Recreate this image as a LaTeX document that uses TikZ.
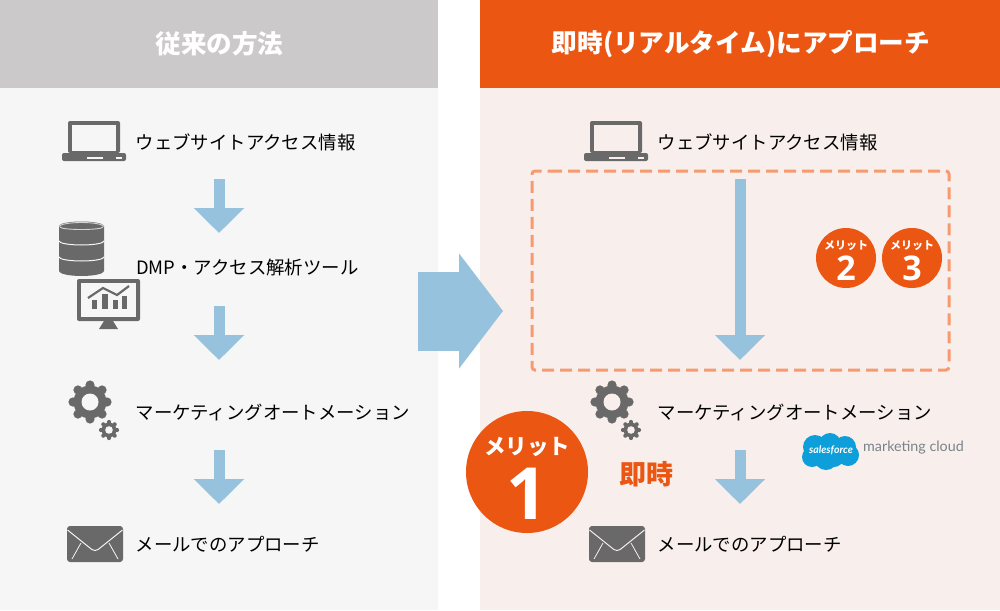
\documentclass[tikz,border=0pt]{standalone}
\usepackage{fontspec}
\setmainfont{Noto Sans CJK JP}
\newfontfamily\logofont{Lato}
\newfontfamily\numfont{Open Sans}
\usetikzlibrary{arrows.meta, calc}

\definecolor{iconGrey}{HTML}{696969}
\definecolor{arrowBlue}{HTML}{96C2DE}
\definecolor{accentOrange}{HTML}{EB5613}
\definecolor{dashOrange}{HTML}{F79A70}
\definecolor{headGrey}{HTML}{CBC9C9}
\definecolor{panelGrey}{HTML}{F6F6F6}
\definecolor{panelPink}{HTML}{F8EFEC}
\definecolor{cloudBlue}{HTML}{0E9FDB}
\definecolor{logoGrey}{HTML}{7B8288}

\tikzstyle{header} = [text=white, font=\fontsize{25.6}{30}\selectfont\bfseries]
\tikzstyle{label} = [anchor=west, inner sep=0pt, text=black, font=\fontsize{18.4}{22}\selectfont]
\tikzstyle{arrow} = [draw=arrowBlue, line width=11pt, -{Triangle[length=25pt,width=49pt]}]
\tikzstyle{bigarrow} = [draw=arrowBlue, line width=79pt, -{Triangle[length=44pt,width=113pt]}]
\tikzstyle{dashbox} = [draw=dashOrange, line width=3pt, rounded corners=3pt, dash pattern=on 12pt off 6pt]
\tikzstyle{meritbig} = [circle, fill=accentOrange, minimum size=122pt, inner sep=0pt]
\tikzstyle{meritsmall} = [circle, fill=accentOrange, minimum size=60pt, inner sep=0pt]
\tikzstyle{merittext} = [text=white, inner sep=0pt, font=\fontsize{11}{13}\selectfont\bfseries]
\tikzstyle{meritnum} = [text=white, inner sep=0pt, font=\numfont\fontsize{34}{36}\selectfont\bfseries]

\tikzset{
  laptopicon/.pic={
    \fill[iconGrey, rounded corners=2pt] (-26,-20) rectangle (26,12);
    \fill[#1] (-22,-16) rectangle (22,10);
    \fill[iconGrey, rounded corners=2pt] (-32,12) rectangle (32,20);
    \fill[#1] (-7,16) rectangle (9,18);
    \fill[#1] (22,16) rectangle (28,18);
  },
  gearicon/.pic={
    \fill[iconGrey] (0,0) circle (16.5);
    \foreach \ang in {0,45,...,315}
      \fill[iconGrey] (\ang:17) circle (4.6);
    \fill[#1] (0,0) circle (8.5);
    \fill[iconGrey] (19,28) circle (7.5);
    \foreach \ang in {0,45,...,315}
      \fill[iconGrey] ($(19,28)+(\ang:8)$) circle (2.1);
    \fill[#1] (19,28) circle (3.8);
  },
  mailicon/.pic={
    \fill[iconGrey, rounded corners=3pt] (-28,-18) rectangle (28,18);
    \draw[#1, line width=1pt, rounded corners=4pt] (-27.5,-14) -- (0,8) -- (27.5,-14);
    \draw[#1, line width=0.8pt] (-23,15) -- (-14,-1);
    \draw[#1, line width=0.8pt] (23,15) -- (14,-1);
  }
}

\begin{document}
\begin{tikzpicture}[x=1pt, y=-1pt]
    \useasboundingbox (0,0) rectangle (1000,610);

    % Panels
    \fill[headGrey] (0,0) rectangle (438,88);
    \fill[panelGrey] (0,88) rectangle (438,610);
    \fill[accentOrange] (480,0) rectangle (1000,88);
    \fill[panelPink] (480,88) rectangle (1000,610);

    % Headers
    \node (headleft) [header] at (219.5,44) {従来の方法};
    \node (headright) [header] at (741,44) {即時(リアルタイム)にアプローチ};

    % Left column
    \node (webleft) [label] at (135.5,142) {ウェブサイトアクセス情報};
    \node (dmpleft) [label] at (136,268) {DMP・アクセス解析ツール};
    \node (maleft) [label] at (135.5,412) {マーケティングオートメーション};
    \node (mailleft) [label] at (135.5,544) {メールでのアプローチ};

    % Right column
    \node (webright) [label] at (657.5,142) {ウェブサイトアクセス情報};
    \node (maright) [label] at (657.5,412) {マーケティングオートメーション};
    \node (mailright) [label] at (657.5,544) {メールでのアプローチ};

    % Icons
    \pic at (94,141) {laptopicon=panelGrey};
    \pic at (616,141) {laptopicon=panelPink};
    \pic at (90,402) {gearicon=panelGrey};
    \pic at (612,402) {gearicon=panelPink};
    \pic at (95,544) {mailicon=panelGrey};
    \pic at (617,544) {mailicon=panelPink};

    % Database
    \fill[iconGrey] (59,226) arc (180:360:22.5 and 4.5) -- (104,271) arc (0:180:22.5 and 5) -- cycle;
    \draw[panelGrey!75!iconGrey, line width=0.9pt] (59.5,226.5) arc (180:360:22 and 4);
    \draw[panelGrey!75!iconGrey, line width=0.9pt] (60,227) arc (180:0:21.5 and 2.5);
    \draw[panelGrey, line width=1pt] (59,241) arc (180:0:22.5 and 4);
    \draw[panelGrey, line width=1pt] (59,257) arc (180:0:22.5 and 4);

    % Monitor
    \fill[iconGrey, rounded corners=2pt] (77,279) rectangle (140,321);
    \fill[panelGrey] (81,283) rectangle (136,317);
    \fill[iconGrey] (104,321) -- (113,321) -- (118,329) -- (99,329) -- cycle;
    \fill[iconGrey] (92,300) rectangle (97,309);
    \fill[iconGrey] (102,294) rectangle (108,309);
    \fill[iconGrey] (113,300) rectangle (118,309);
    \fill[iconGrey] (122,296) rectangle (127,309);
    \draw[iconGrey, line width=2.2pt] (88,298) -- (103,288) -- (117,295) -- (129,286);

    % Arrows
    \coordinate (a1s) at (219,179);
    \coordinate (a1e) at (219,233);
    \coordinate (a2s) at (219,306);
    \coordinate (a2e) at (219,360);
    \coordinate (a3s) at (219,450);
    \coordinate (a3e) at (219,504);
    \coordinate (b1s) at (740,179);
    \coordinate (b1e) at (740,360);
    \coordinate (b2s) at (740,450);
    \coordinate (b2e) at (740,504);
    \coordinate (bigs) at (418,311);
    \coordinate (bige) at (503,311);
    \draw [arrow] (a1s) -- (a1e);
    \draw [arrow] (a2s) -- (a2e);
    \draw [arrow] (a3s) -- (a3e);
    \draw [arrow] (b1s) -- (b1e);
    \draw [arrow] (b2s) -- (b2e);
    \draw [bigarrow] (bigs) -- (bige);

    % Dashed box
    \draw [dashbox] (547,171) -- (949,171) -- (949,370) -- (532,370) -- (532,171) -- cycle;

    % Merit badges
    \node (merit1) [meritbig] at (527,472) {};
    \node (merit1text) [merittext, font=\fontsize{21.5}{25}\selectfont\bfseries] at (527,447) {メリット};
    \node (merit1num) [meritnum, font=\numfont\fontsize{72}{76}\selectfont\bfseries] at (527,494) {1};
    \node (merit2) [meritsmall] at (846,258) {};
    \node (merit2text) [merittext] at (846,245.5) {メリット};
    \node (merit2num) [meritnum] at (846,268.5) {2};
    \node (merit3) [meritsmall] at (912,258) {};
    \node (merit3text) [merittext] at (912,245.5) {メリット};
    \node (merit3num) [meritnum] at (912,268.5) {3};
    \node (instant) [text=accentOrange, font=\fontsize{27}{30}\selectfont\bfseries] at (646,474.5) {即時};

    % Logo
    \fill[cloudBlue] (815,447) circle (12) (830,444) circle (11) (845,447) circle (11)
      (848,455) circle (11) (812,457) circle (10) (826,458) circle (12) (834,457) circle (10);
    \node (logoname) [text=white, inner sep=0pt, font=\logofont\bfseries\itshape\fontsize{10.5}{12}\selectfont] at (831,450) {salesforce};
    \node (logotext) [anchor=west, text=logoGrey, inner sep=0pt, font=\logofont\fontsize{14.3}{18}\selectfont] at (863,448) {marketing cloud};

\end{tikzpicture}
\end{document}
